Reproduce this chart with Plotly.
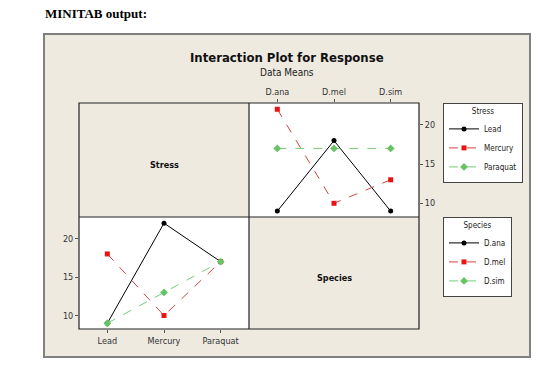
import plotly.graph_objects as go

# ---- data (cell means) ----
stress_levels = ["Lead", "Mercury", "Paraquat"]
species_levels = ["D.ana", "D.mel", "D.sim"]
# means by stress (rows) across species (cols)
lead_means = [9, 18, 9]
mercury_means = [22, 10, 13]
paraquat_means = [17, 17, 17]
# means by species across stress
dana_means = [9, 22, 17]
dmel_means = [18, 10, 17]
dsim_means = [9, 13, 17]
y_ticks = [10, 15, 20]

W, H = 560, 371
def px(x): return x / W
def py(y): return 1 - y / H

FONT = "DejaVu Sans Condensed, DejaVu Sans"
styles = [
    dict(color="#000000", lc="#000000", dash="solid", symbol="circle", size=5),
    dict(color="#EE1111", lc="#D04545", dash="dash", symbol="square", size=5),
    dict(color="#66C466", lc="#77CC77", dash="dash", symbol="diamond", size=6),
]

fig = go.Figure()

stress_series = [lead_means, mercury_means, paraquat_means]
for name, vals, st in zip(stress_levels, stress_series, styles):
    fig.add_trace(go.Scatter(
        x=species_levels, y=vals, name=name, mode="lines+markers",
        line=dict(color=st["lc"], width=1, dash=st["dash"]),
        marker=dict(color=st["color"], symbol=st["symbol"], size=st["size"]),
        xaxis="x", yaxis="y", legend="legend"))

species_series = [dana_means, dmel_means, dsim_means]
for name, vals, st in zip(species_levels, species_series, styles):
    fig.add_trace(go.Scatter(
        x=stress_levels, y=vals, name=name, mode="lines+markers",
        line=dict(color=st["lc"], width=1, dash=st["dash"]),
        marker=dict(color=st["color"], symbol=st["symbol"], size=st["size"]),
        xaxis="x2", yaxis="y2", legend="legend2"))

L, M, R = 79, 249, 419
T, MID, B = 103, 217, 329
yr = [8.25, 22.8]
tickfont = dict(family=FONT, size=9, color="#333333")

axis_common = dict(showgrid=False, zeroline=False, showline=False,
                   ticks="outside", ticklen=3, tickcolor="#555555",
                   tickfont=tickfont, fixedrange=True)

legfont = dict(family=FONT, size=8, color="#222")
fig.update_layout(
    width=W, height=H,
    margin=dict(l=0, r=0, t=0, b=0),
    paper_bgcolor="white",
    plot_bgcolor="rgba(0,0,0,0)",
    xaxis=dict(domain=[px(M), px(R)], anchor="y", side="top",
               range=[-0.5, 2.5], type="category", **axis_common),
    yaxis=dict(domain=[py(MID), py(T)], anchor="x", side="right",
               range=yr, tickvals=y_ticks, **axis_common),
    xaxis2=dict(domain=[px(L), px(M)], anchor="y2", side="bottom",
                range=[-0.5, 2.5], type="category", **axis_common),
    yaxis2=dict(domain=[py(B), py(MID)], anchor="x2", side="left",
                range=yr, tickvals=y_ticks, **axis_common),
    legend=dict(title=dict(text="Stress", side="top center", font=legfont),
                x=px(443), y=py(103), xanchor="left", yanchor="top",
                bgcolor="white", bordercolor="#444444", borderwidth=1,
                font=legfont, tracegroupgap=0, itemwidth=30),
    legend2=dict(title=dict(text="Species", side="top center", font=legfont),
                 x=px(443), y=py(217), xanchor="left", yanchor="top",
                 bgcolor="white", bordercolor="#444444", borderwidth=1,
                 font=legfont, tracegroupgap=0, itemwidth=30),
    showlegend=True,
)

beige = "#EEEAE0"
shapes = [
    # outer frame
    dict(type="rect", xref="paper", yref="paper", x0=px(44), x1=px(530),
         y0=py(357), y1=py(34), fillcolor=beige,
         line=dict(color="#808080", width=2), layer="below"),
    # white data panels
    dict(type="rect", xref="paper", yref="paper", x0=px(M), x1=px(R),
         y0=py(MID), y1=py(T), fillcolor="white", line=dict(width=0), layer="below"),
    dict(type="rect", xref="paper", yref="paper", x0=px(L), x1=px(M),
         y0=py(B), y1=py(MID), fillcolor="white", line=dict(width=0), layer="below"),
    # grid borders
    dict(type="rect", xref="paper", yref="paper", x0=px(L), x1=px(R),
         y0=py(B), y1=py(T), line=dict(color="#222222", width=1.2), layer="above"),
    dict(type="line", xref="paper", yref="paper", x0=px(M), x1=px(M),
         y0=py(B), y1=py(T), line=dict(color="#222222", width=1.2), layer="above"),
    dict(type="line", xref="paper", yref="paper", x0=px(L), x1=px(R),
         y0=py(MID), y1=py(MID), line=dict(color="#222222", width=1.2), layer="above"),
]
fig.update_layout(shapes=shapes)

ann = [
    dict(text="<b>MINITAB output:</b>", x=px(43), y=py(13), xanchor="left", yanchor="middle",
         font=dict(family="Liberation Serif", size=13, color="#000")),
    dict(text="<b>Interaction Plot for Response</b>", x=px(287), y=py(57),
         xanchor="center", yanchor="middle",
         font=dict(family=FONT, size=13, color="#111")),
    dict(text="Data Means", x=px(287), y=py(72), xanchor="center", yanchor="middle",
         font=dict(family=FONT, size=10, color="#222")),
    dict(text="<b>Stress</b>", x=px(164), y=py(165), xanchor="center", yanchor="middle",
         font=dict(family=FONT, size=9, color="#111")),
    dict(text="<b>Species</b>", x=px(334), y=py(278), xanchor="center", yanchor="middle",
         font=dict(family=FONT, size=9, color="#111")),
]
for a in ann:
    a.update(xref="paper", yref="paper", showarrow=False)
fig.update_layout(annotations=ann)

fig.write_html("out.html")
